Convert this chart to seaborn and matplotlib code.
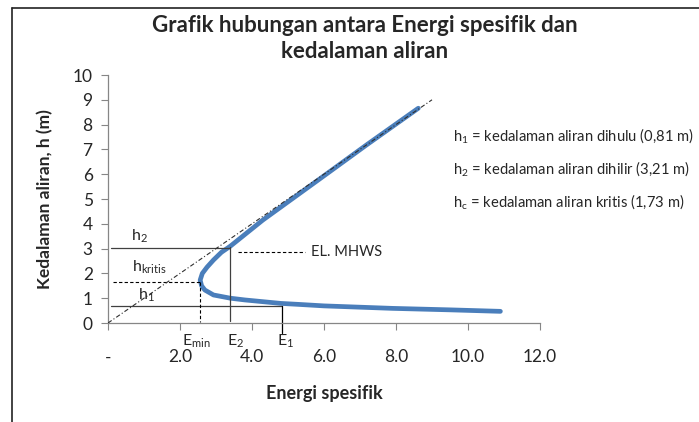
import matplotlib
matplotlib.use("Agg")
import matplotlib.pyplot as plt
import seaborn as sns
import pandas as pd
from matplotlib.lines import Line2D

sns.set_style("white")
plt.rcParams['font.family'] = ['Lato', 'DejaVu Sans']
plt.rcParams['mathtext.default'] = 'regular'

# Curve (specific energy E vs depth h)
energy = [10.9, 9.5, 7.9, 6.0, 5.3, 4.8, 4.3, 3.8, 3.4, 2.93, 2.69, 2.6, 2.56,
          2.62, 2.75, 2.93, 3.15, 3.4, 4.3, 5.9, 7.2, 8.62]
depth = [0.47, 0.53, 0.59, 0.69, 0.75, 0.79, 0.86, 0.93, 1.0, 1.13, 1.33, 1.5, 1.73,
         2.0, 2.25, 2.54, 2.85, 3.1, 4.15, 5.83, 7.2, 8.66]
# E = h reference line
ref_e = [0.0, 9.0]
ref_h = [0.0, 9.0]
# Marked levels
h1_level, h2_level, hc_level = 0.70, 3.01, 1.67
e1_val, e2_val, emin_val = 4.83, 3.40, 2.56
mhws_level = 2.88

x_ticks = [0, 2, 4, 6, 8, 10, 12]
x_ticklabels = ['-', '2.0', '4.0', '6.0', '8.0', '10.0', '12.0']
y_ticks = list(range(0, 11))

legend_lines = ['h$_1$ = kedalaman aliran dihulu (0,81 m)',
                'h$_2$ = kedalaman aliran dihilir (3,21 m)',
                'h$_c$ = kedalaman aliran kritis (1,73 m)']

df = pd.DataFrame({'E': energy, 'h': depth})

fig = plt.figure(figsize=(6.99, 4.22), dpi=100)
ax = fig.add_axes([108/699, 1-323/422, 432/699, 248/422])

sns.lineplot(data=df, x='E', y='h', sort=False, estimator=None, ax=ax,
             color='#4a7ebb', lw=3.4, solid_capstyle='round', zorder=2)
ax.plot(ref_e, ref_h, color='#303030', lw=0.8, ls=(0, (4, 2, 1, 2)), zorder=3)

dark = '#404040'
ax.plot([0.08, e2_val], [h2_level, h2_level], color=dark, lw=0.9, clip_on=False)
ax.plot([0.08, e1_val], [h1_level, h1_level], color=dark, lw=0.9, clip_on=False)
ax.plot([0.15, emin_val], [hc_level, hc_level], color='black', lw=0.8, ls=(0, (3, 2)))
ax.plot([e2_val, e2_val], [h2_level + 0.05, 0.1], color=dark, lw=0.9)
ax.plot([e1_val, e1_val], [h1_level, -0.42], color='black', lw=0.9, clip_on=False)
ax.plot([emin_val, emin_val], [hc_level, 0.05], color='black', lw=0.8, ls=(0, (3, 2)))
ax.plot([3.6, 5.47], [mhws_level, mhws_level], color='black', lw=0.8, ls=(0, (3, 2)))
ax.text(5.65, mhws_level, 'EL. MHWS', fontsize=10.5, va='center', ha='left')

ax.text(0.65, 3.5, 'h$_2$', fontsize=11.5, va='center', ha='left')
ax.text(0.66, 2.25, 'h$_{kritis}$', fontsize=11.5, va='center', ha='left')
ax.text(0.83, 1.12, 'h$_1$', fontsize=11.5, va='center', ha='left')
ax.text(2.05, -0.72, 'E$_{min}$', fontsize=11.5, va='center', ha='left')
ax.text(3.3, -0.72, 'E$_2$', fontsize=11.5, va='center', ha='left')
ax.text(4.7, -0.72, 'E$_1$', fontsize=11.5, va='center', ha='left')

ax.set_xlim(0, 12)
ax.set_ylim(0, 10)
ax.set_xticks(x_ticks)
ax.set_xticklabels(x_ticklabels)
ax.set_yticks(y_ticks)
ax.tick_params(axis='x', labelsize=12.5, length=5, pad=14, color='#868686', direction='out', bottom=True)
ax.tick_params(axis='y', labelsize=12.5, length=5, pad=6, color='#868686', direction='out', left=True)
for s in ['top', 'right']:
    ax.spines[s].set_visible(False)
for s in ['left', 'bottom']:
    ax.spines[s].set_color('#868686')
    ax.spines[s].set_linewidth(0.9)

ax.set_xlabel('Energi spesifik', fontsize=13, fontweight='bold', labelpad=14)
ax.set_ylabel('Kedalaman aliran, h (m)', fontsize=12.5, fontweight='bold', labelpad=14)

fig.text(365/699, 1-25/422, 'Grafik hubungan antara Energi spesifik dan',
         ha='center', va='center', fontsize=16, fontweight='bold')
fig.text(365/699, 1-52/422, 'kedalaman aliran',
         ha='center', va='center', fontsize=16, fontweight='bold')

for i, t in enumerate(legend_lines):
    fig.text(453/699, 1-(136 + 33*i)/422, t, fontsize=10.6, ha='left', va='center')

fig.add_artist(Line2D([12/699, 1.0], [1-8/422, 1-8/422], transform=fig.transFigure, color='#222222', lw=1.2))
fig.add_artist(Line2D([12/699, 12/699], [0, 1-8/422], transform=fig.transFigure, color='#222222', lw=1.2))

fig.savefig('out.png', dpi=100)
